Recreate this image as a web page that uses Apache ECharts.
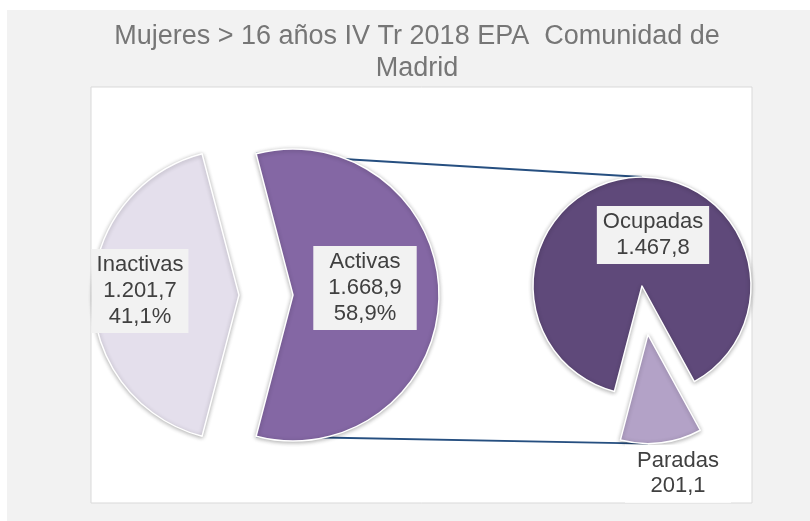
<!DOCTYPE html>
<html>
<head>
<meta charset="utf-8">
<script src="https://cdn.jsdelivr.net/npm/echarts@6/dist/echarts.min.js"></script>
<style>
  html, body { margin: 0; padding: 0; background: #fff; }
  #chart { width: 810px; height: 521px; }
</style>
</head>
<body>
<div id="chart"></div>
<script>
// datos (miles de personas)
const mainNames = ['Activas', 'Inactivas'];
const mainValues = [1668.9, 1201.7];
const mainPercents = ['58,9%', '41,1%'];
const subNames = ['Ocupadas', 'Paradas'];
const subValues = [1467.8, 201.1];

const titleText = 'Mujeres > 16 años IV Tr 2018 EPA  Comunidad de\nMadrid';

// layout
const C1 = [266, 295], R1 = 146, OFF1 = 27;
const C2 = [642, 286], R2 = 109, OFF2 = 49;
const paradasDir = -83; // direction of the split slice in the small pie

function fmt(v) {
  const parts = v.toFixed(1).split('.');
  parts[0] = parts[0].replace(/\B(?=(\d{3})+(?!\d))/g, '.');
  return parts[0] + ',' + parts[1];
}

const sum = a => a.reduce((s, x) => s + x, 0);
const rad = d => d * Math.PI / 180;

// angles
const activasDeg = 360 * mainValues[0] / sum(mainValues);
const start1 = activasDeg / 2;
const paradasDeg = 360 * subValues[1] / sum(subValues);
const start2 = 360 + paradasDir - paradasDeg / 2;

// connector ends, from the pie geometry
const apex1 = [C1[0] + OFF1, C1[1]];
const topA = [apex1[0] + R1 * Math.cos(rad(start1)), apex1[1] - R1 * Math.sin(rad(start1))];
const botA = [apex1[0] + R1 * Math.cos(rad(-start1)), apex1[1] - R1 * Math.sin(rad(-start1))];
const topB = [C2[0], C2[1] - R2];
const botB = [C2[0] + OFF2 * Math.cos(rad(paradasDir)), C2[1] + R2 - OFF2 * Math.sin(rad(paradasDir))];

const boxLabel = {
  show: true,
  position: 'inside',
  color: '#404040',
  fontFamily: 'Liberation Sans, Arial, sans-serif',
  fontSize: 22,
  lineHeight: 26,
  backgroundColor: '#f2f2f2',
  padding: [3, 8]
};

const chart = echarts.init(document.getElementById('chart'));
chart.setOption({
  animation: false,
  backgroundColor: '#ffffff',
  title: {
    text: titleText,
    left: 417,
    top: 21,
    textAlign: 'center',
    padding: 0,
    textStyle: {
      color: '#767676',
      fontFamily: 'Liberation Sans, Arial, sans-serif',
      fontWeight: 'normal',
      fontSize: 27,
      lineHeight: 32
    }
  },
  graphic: [
    { type: 'rect', z: -10, silent: true, shape: { x: 7, y: 10, width: 803, height: 511 }, style: { fill: '#f2f2f2' } },
    { type: 'rect', z: -9, silent: true, shape: { x: 91, y: 87, width: 661, height: 416 }, style: { fill: '#ffffff', stroke: '#d9d9d9', lineWidth: 1 } },
    { type: 'line', z: -5, silent: true, shape: { x1: topA[0], y1: topA[1], x2: topB[0], y2: topB[1] }, style: { stroke: '#264f80', lineWidth: 1.8 } },
    { type: 'line', z: -5, silent: true, shape: { x1: botA[0], y1: botA[1], x2: botB[0], y2: botB[1] }, style: { stroke: '#264f80', lineWidth: 1.8 } }
  ],
  series: [
    {
      type: 'pie',
      center: C1,
      radius: R1,
      startAngle: start1,
      selectedMode: 'multiple',
      selectedOffset: OFF1,
      silent: true,
      itemStyle: { borderColor: '#ffffff', borderWidth: 1.5, shadowBlur: 4, shadowColor: 'rgba(0,0,0,0.3)', shadowOffsetY: 1 },
      label: Object.assign({}, boxLabel, {
        formatter: p => p.name + '\n' + fmt(p.value) + '\n' + mainPercents[p.dataIndex]
      }),
      labelLine: { show: false },
      labelLayout: p => (p.dataIndex === 0 ? { dx: -4, dy: -7 } : { dx: -23, dy: -4 }),
      data: mainNames.map((n, i) => ({
        name: n,
        value: mainValues[i],
        selected: true,
        itemStyle: { color: ['#8467a4', '#e4dfec'][i] },
        label: { padding: i === 0 ? [3, 15] : [3, 5] }
      }))
    },
    {
      type: 'pie',
      center: C2,
      radius: R2,
      startAngle: start2,
      selectedMode: 'multiple',
      selectedOffset: OFF2,
      silent: true,
      itemStyle: { borderColor: '#ffffff', borderWidth: 1.5, shadowBlur: 4, shadowColor: 'rgba(0,0,0,0.3)', shadowOffsetY: 1 },
      label: Object.assign({}, boxLabel, {
        formatter: p => p.name + '\n' + fmt(p.value)
      }),
      labelLine: { show: false },
      labelLayout: p => (p.dataIndex === 0 ? { dx: 18, dy: 6 } : { dx: 23, dy: 82 }),
      data: subNames.map((n, i) => ({
        name: n,
        value: subValues[i],
        selected: i === 1,
        itemStyle: { color: ['#5f497a', '#b3a2c7'][i] },
        label: i === 1
          ? { backgroundColor: '#ffffff', padding: [8, 12, 0, 12], lineHeight: 25 }
          : { padding: [3, 6] }
      }))
    }
  ]
});
</script>
</body>
</html>
